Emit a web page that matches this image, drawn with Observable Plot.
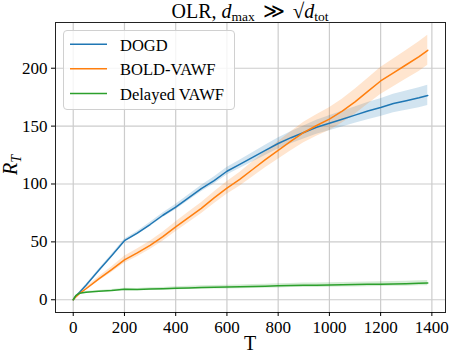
<!DOCTYPE html>
<html>
<head>
<meta charset="utf-8">
<script src="https://cdn.jsdelivr.net/npm/d3@7"></script>
<script src="https://cdn.jsdelivr.net/npm/@observablehq/plot@0.6"></script>
<style>
  html, body { margin: 0; padding: 0; background: #fff; }
  #wrap { position: relative; width: 449px; height: 354px; }
  #title { position: absolute; left: 55px; width: 390px; top: 1px; text-align: center;
    font-family: "Liberation Serif", serif; font-size: 20px; color: #000; line-height: 21px; white-space: nowrap; }
  #title sub { font-size: 13.5px; vertical-align: -3px; line-height: 0; }
  #title .gg { font-size: 21px; padding: 0 3px; }
  #title .sq { font-size: 21px; }
  .rad { border-top: 1px solid #000; padding-top: 0px; }
  svg text, svg tspan { font-family: "Liberation Serif", "Times New Roman", serif !important; }
</style>
</head>
<body>
<div id="wrap">
  <div id="chart"></div>
  <div id="title">OLR, <i>d</i><sub>max</sub> <span class="gg">≫</span> <span class="sq">√</span><span class="rad"><i>d</i><sub>tot</sub></span></div>
</div>
<script>
const seriesNames = ["DOGD", "BOLD-VAWF", "Delayed VAWF"];
const seriesColors = ["#1f77b4", "#ff7f0e", "#2ca02c"];

const T = [0, 10, 25, 50, 100, 150, 200, 250, 300, 350, 400, 450, 500, 550, 600, 650, 700, 750, 800, 850, 900, 950, 1000, 1050, 1100, 1150, 1200, 1250, 1300, 1350, 1384];

const dogd =      [0, 3, 6.5, 12.5, 25.5, 38, 51, 57.5, 65, 73, 80, 88, 96, 103, 111, 117, 123, 129, 135, 140, 144.5, 149, 152.5, 156, 159.5, 163, 166, 169.5, 172, 174.5, 176.5];
const dogdBand =  [0, 0.3, 0.5, 0.6, 0.8, 1, 1.2, 1.5, 1.7, 2, 2.2, 2.5, 2.8, 3, 3.3, 3.6, 4, 4.4, 4.8, 5.2, 5.6, 6, 6.4, 6.8, 7.1, 7.4, 7.7, 8, 8.3, 8.6, 8.8];

const bold =      [0, 2.5, 5.5, 9.5, 18, 26, 34.5, 40.5, 47, 54.5, 63, 71, 79, 88, 96.5, 104, 112.5, 121, 129, 137, 144.5, 150.5, 156, 163, 171, 180, 189, 196, 203, 210, 215.5];
const boldBand =  [0, 0.5, 1, 1.3, 1.8, 2.4, 3, 3.3, 3.6, 3.9, 4.2, 4.5, 4.8, 5.1, 5.4, 5.9, 6.4, 7, 7.6, 8.2, 8.8, 9.3, 9.8, 10.3, 10.8, 11.2, 11.6, 12, 12.4, 12.8, 13];

const delayed =     [0, 3.5, 5.7, 6.5, 7.4, 8, 9, 8.8, 9.2, 9.5, 10, 10.2, 10.5, 10.8, 11, 11.2, 11.4, 11.6, 12, 12.3, 12.5, 12.6, 12.8, 13, 13.1, 13.3, 13.5, 13.7, 13.9, 14.2, 14.4];
const delayedBand = [0, 0.3, 0.5, 0.6, 0.7, 0.8, 0.9, 1, 1.1, 1.2, 1.3, 1.4, 1.5, 1.5, 1.6, 1.6, 1.7, 1.7, 1.8, 1.8, 1.9, 1.9, 2, 2, 2, 2.1, 2.1, 2.1, 2.2, 2.2, 2.2];

const xTicks = [0, 200, 400, 600, 800, 1000, 1200, 1400];
const yTicks = [0, 50, 100, 150, 200];

const means = [dogd, bold, delayed];
const bands = [dogdBand, boldBand, delayedBand];
const rows = [];
seriesNames.forEach((name, s) => {
  T.forEach((t, i) => {
    rows.push({T: t, series: name, mean: means[s][i], lo: means[s][i] - bands[s][i], hi: means[s][i] + bands[s][i]});
  });
});

const chart = Plot.plot({
  width: 449,
  height: 354,
  marginTop: 22,
  marginBottom: 42,
  marginLeft: 55,
  marginRight: 4,
  style: {fontFamily: "Liberation Serif, serif", fontSize: "17px", color: "#000", background: "transparent"},
  x: {domain: [-69.2, 1453.2], label: null},
  y: {domain: [-11, 239.5], label: null},
  color: {domain: seriesNames, range: seriesColors},
  marks: [
    Plot.gridX(xTicks, {stroke: "#cccccc", strokeOpacity: 1, strokeWidth: 1.2}),
    Plot.gridY(yTicks, {stroke: "#cccccc", strokeOpacity: 1, strokeWidth: 1.2}),
    Plot.areaY(rows, {x: "T", y1: "lo", y2: "hi", z: "series", fill: "series", fillOpacity: 0.2}),
    Plot.line(rows, {x: "T", y: "mean", z: "series", stroke: "series", strokeWidth: 1.5}),
    Plot.frame({stroke: "#222", strokeWidth: 1}),
    Plot.axisX({ticks: xTicks, tickSize: 4, tickPadding: 4, tickFormat: d => String(d), label: null, fontSize: 17}),
    Plot.axisY({ticks: yTicks, tickSize: 4, tickPadding: 4, tickFormat: d => String(d), label: null, fontSize: 17})
  ]
});
document.getElementById("chart").appendChild(chart);

const svg = d3.select(chart);
svg.selectAll("text").attr("font-family", "Liberation Serif, serif");
// axis labels
svg.append("text")
  .attr("x", 250).attr("y", 350)
  .attr("text-anchor", "middle")
  .attr("font-family", "Liberation Serif, serif")
  .style("font-size", "20px")
  .text("T");
const yl = svg.append("text")
  .attr("transform", "translate(17,165) rotate(-90)")
  .attr("text-anchor", "middle")
  .attr("font-family", "Liberation Serif, serif")
  .style("font-size", "20px");
yl.append("tspan").style("font-style", "italic").text("R");
yl.append("tspan").attr("dy", 4).style("font-size", "14px").style("font-style", "italic").text("T");

// legend
const lg = svg.append("g");
lg.append("rect")
  .attr("x", 63.5).attr("y", 30.5).attr("width", 171).attr("height", 79).attr("rx", 3.5)
  .attr("fill", "#fff").attr("fill-opacity", 0.8).attr("stroke", "#d0d0d0");
const baselines = [50.7, 75.3, 100];
seriesNames.forEach((name, i) => {
  const yb = baselines[i];
  lg.append("line").attr("x1", 70).attr("x2", 107).attr("y1", yb - 6.5).attr("y2", yb - 6.5)
    .attr("stroke", seriesColors[i]).attr("stroke-width", 1.5);
  lg.append("text").attr("x", 120).attr("y", yb)
    .attr("text-anchor", "start")
    .attr("font-family", "Liberation Serif, serif")
    .style("font-size", "16.5px").attr("fill", "#000")
    .text(name);
});
</script>
</body>
</html>
